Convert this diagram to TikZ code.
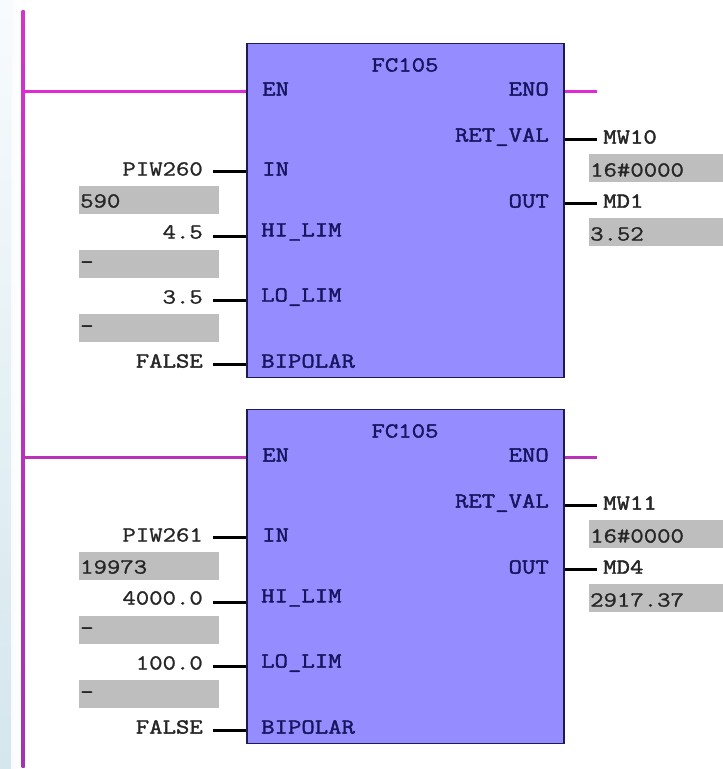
\documentclass[tikz,border=0pt]{standalone}
\usepackage{fontspec}
\newfontfamily\plc[FakeStretch=1.21,FakeBold=1.8]{Latin Modern Mono}
\newfontfamily\plcv[FakeStretch=1.21,FakeBold=1.2]{Latin Modern Mono}
\definecolor{blockfill}{RGB}{148,140,255}
\definecolor{blockedge}{RGB}{28,28,80}
\definecolor{railtopc}{RGB}{214,50,206}
\definecolor{railbotc}{RGB}{165,50,178}
\definecolor{rungA}{RGB}{225,40,215}
\definecolor{rungB}{RGB}{185,50,185}
\definecolor{valgray}{RGB}{190,190,190}
\definecolor{pinblue}{RGB}{22,22,95}
\definecolor{sidetop}{RGB}{248,251,253}
\definecolor{sidemid}{RGB}{230,241,245}
\definecolor{sidebot}{RGB}{213,230,237}
\tikzset{
 x=1pt,y=-1pt,
 block/.style={draw=blockedge,line width=1.8pt,fill=blockfill},
 wire/.style={draw=black,line width=3pt},
 pin/.style={font=\fontsize{21.5}{21.5}\plc,text=pinblue,inner sep=0pt},
 opl/.style={font=\fontsize{21.5}{21.5}\plcv,text=black!85,anchor=east,inner sep=0pt},
 opr/.style={font=\fontsize{21.5}{21.5}\plcv,text=black!85,anchor=west,inner sep=0pt},
}
\begin{document}
\begin{tikzpicture}
\useasboundingbox (0,0) rectangle (723,769);
\fill[white] (0,0) rectangle (723,769);
\shade[top color=sidetop,bottom color=sidemid] (0,0) rectangle (11,380);
\shade[top color=sidemid,bottom color=sidebot] (0,380) rectangle (11,769);
\shade[left color=sidetop,right color=white] (11,0) rectangle (20,769);
% rail
\coordinate (railtop) at (23,10);
\coordinate (railbot) at (23,767);
\shade[top color=railtopc,bottom color=railbotc] (21.5,10) rectangle (24.5,767);
\foreach \dy/\fc/\pi/\piv/\hi/\lo/\mw/\mwv/\md/\mdv/\id/\rc in {
 0/FC105/PIW260/590/4.5/3.5/MW10/16\#0000/MD1/3.52/a/rungA,
 366/FC105/PIW261/19973/4000.0/100.0/MW11/16\#0000/MD4/2917.37/b/rungB}{
 \begin{scope}[yshift=-\dy pt]
  \node[block,minimum width=317pt,minimum height=334pt,inner sep=0pt,anchor=north west] (blk\id) at (246,42.5) {};
  \node[pin,anchor=center] (t\id) at (405,65) {\fc};
  \coordinate (rj\id) at (23,91);
  \draw[draw=\rc,line width=3pt] (rj\id) -- (blk\id.west |- rj\id);
  \coordinate (eno\id) at (597,91);
  \draw[draw=\rc,line width=3pt] (blk\id.east |- eno\id) -- (eno\id);
  \node[pin,anchor=west] at (262,89) {EN};
  \node[pin,anchor=east] at (549,89) {ENO};
  \node[pin,anchor=east] at (549,137) {RET\_VAL};
  \node[pin,anchor=east] at (549,201) {OUT};
  \node[pin,anchor=west] at (262,169) {IN};
  \node[pin,anchor=west] at (261,232) {HI\_LIM};
  \node[pin,anchor=west] at (261,297) {LO\_LIM};
  \node[pin,anchor=west] at (261,361) {BIPOLAR};
  % inputs
  \node[opl] (i1\id) at (203,169) {\pi};
  \node[opl] (i2\id) at (203,232) {\hi};
  \node[opl] (i3\id) at (203,297) {\lo};
  \node[pin,anchor=east,text=black!85] (i4\id) at (203,361) {FALSE};
  \draw[wire] (213,171.5) -- (blk\id.west |- 0,171.5);
  \draw[wire] (213,236) -- (blk\id.west |- 0,236);
  \draw[wire] (213,300) -- (blk\id.west |- 0,300);
  \draw[wire] (213,364) -- (blk\id.west |- 0,364);
  \fill[valgray] (79,186) rectangle (219,214);
  \node[opr] at (80,201) {\piv};
  \fill[valgray] (79,250) rectangle (219,278);
  \node[pin,anchor=west,text=black!85] at (80,265) {-};
  \fill[valgray] (79,314) rectangle (219,342);
  \node[pin,anchor=west,text=black!85] at (80,329) {-};
  % outputs
  \draw[wire] (blk\id.east |- 0,139) -- (597,139);
  \draw[wire] (blk\id.east |- 0,203) -- (597,203);
  \node[pin,anchor=west,text=black!85] at (603,137) {\mw};
  \node[pin,anchor=west,text=black!85] at (603,201) {\md};
  \fill[valgray] (589,154) rectangle (723,182);
  \node[opr] at (590,170) {\mwv};
  \fill[valgray] (589,218) rectangle (723,246);
  \node[opr] at (590,234) {\mdv};
 \end{scope}}
\end{tikzpicture}
\end{document}
